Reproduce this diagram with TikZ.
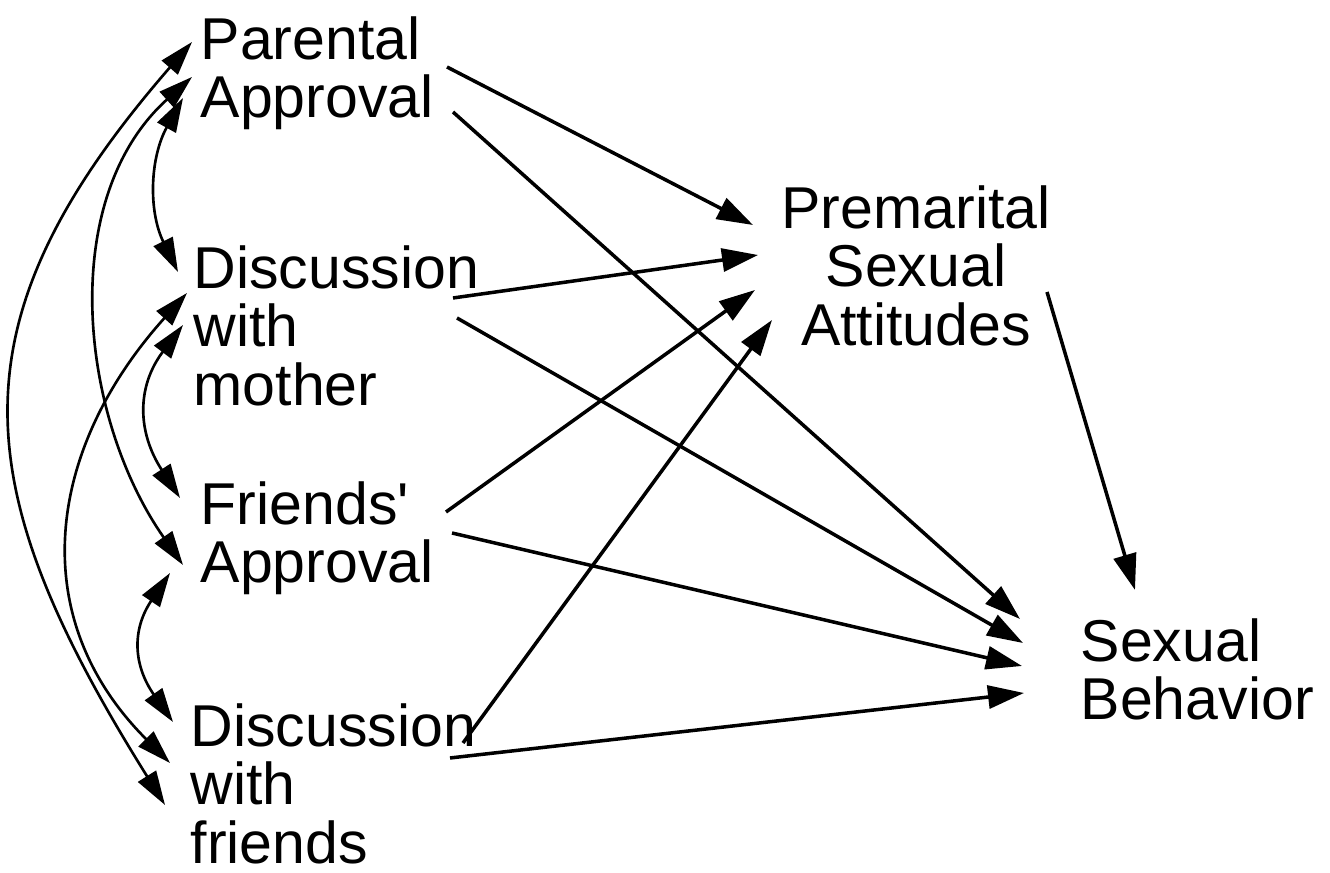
\documentclass[tikz,border=0pt]{standalone}
\usepackage{fontspec}
\setmainfont{Liberation Sans}
\usetikzlibrary{arrows.meta}

\begin{document}
\begin{tikzpicture}[
		var/.style={inner sep=0pt, align=left, font=\fontsize{16.8pt}{16.6pt}\selectfont},
		effect/.style={line width=1pt, -{Triangle[length=0.36cm,width=0.23cm]}},
		assoc/.style={line width=0.75pt, {Triangle[length=0.34cm,width=0.21cm]}-{Triangle[length=0.34cm,width=0.21cm]}}
	]
		\useasboundingbox (0,0) rectangle (13.3,-8.73);
		\node[var, anchor=north west] (pa) at (2.00,-0.16) {Parental\\Approval};
		\node[var, anchor=north west] (dm) at (1.93,-2.45) {Discussion\\with\\mother};
		\node[var, anchor=north west] (fa) at (2.00,-4.81) {Friends\textquotesingle\\Approval};
		\node[var, anchor=north west] (df) at (1.90,-7.03) {Discussion\\with\\friends};
		\node[var, align=center, anchor=north] (psa) at (9.16,-1.85) {Premarital\\Sexual\\Attitudes};
		\node[var, anchor=north west] (sb) at (10.80,-6.18) {Sexual\\Behavior};
		% paths to attitudes
		\draw[effect] ([shift={(2.47,-0.51)}]pa.north west) -- ([shift={(-1.63,-0.40)}]psa.north);
		\draw[effect] ([shift={(2.60,-0.53)}]dm.north west) -- ([shift={(-1.58,-0.70)}]psa.north);
		\draw[effect] ([shift={(2.46,-0.31)}]fa.north west) -- ([shift={(-1.61,-1.05)}]psa.north);
		\draw[effect] ([shift={(2.73,-0.40)}]df.north west) -- ([shift={(-1.44,-1.35)}]psa.north);
		% paths to behavior
		\draw[effect] ([shift={(2.53,-0.96)}]pa.north west) -- ([shift={(-0.60,-0.01)}]sb.north west);
		\draw[effect] ([shift={(2.64,-0.73)}]dm.north west) -- ([shift={(-0.57,-0.25)}]sb.north west);
		\draw[effect] ([shift={(2.52,-0.52)}]fa.north west) -- ([shift={(-0.58,-0.48)}]sb.north west);
		\draw[effect] ([shift={(2.60,-0.55)}]df.north west) -- ([shift={(-0.56,-0.75)}]sb.north west);
		\draw[effect] ([shift={(1.31,-1.07)}]psa.north) -- ([shift={(0.55,0.28)}]sb.north west);
		% correlations
		\draw[assoc] ([shift={(-0.17,-0.82)}]pa.north west) to[out=241,in=116] ([shift={(-0.15,-0.27)}]dm.north west);
		\draw[assoc] ([shift={(-0.08,-0.61)}]pa.north west) to[out=222,in=125,looseness=0.95] ([shift={(-0.17,-0.84)}]fa.north west);
		\draw[assoc] ([shift={(-0.08,-0.26)}]pa.north west) to[out=229,in=122,looseness=1.25] ([shift={(-0.25,-1.02)}]df.north west);
		\draw[assoc] ([shift={(-0.10,-0.80)}]dm.north west) to[out=233,in=123,looseness=1.15] ([shift={(-0.20,-0.17)}]fa.north west);
		\draw[assoc] ([shift={(-0.06,-0.48)}]dm.north west) to[out=228,in=135,looseness=1.13] ([shift={(-0.20,-0.60)}]df.north west);
		\draw[assoc] ([shift={(-0.30,-0.92)}]fa.north west) to[out=236,in=125,looseness=1.18] ([shift={(-0.17,-0.19)}]df.north west);
\end{tikzpicture}
\end{document}
